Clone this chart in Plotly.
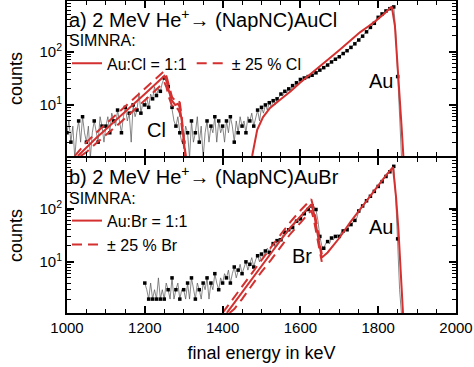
import plotly.graph_objects as go
from plotly.subplots import make_subplots

# ---------------- data ----------------
# panel a: measured spectrum, 5 keV steps from 1000 keV
E_a_start = 1000
counts_a = [
    3, 5, 2, 4, 1, 3, 5, 2, 6, 3,
    2, 4, 1, 3, 5, 3, 2, 6, 4, 2,
    4, 6, 3, 7, 5, 4, 8, 5, 3, 6,
    9, 5, 7, 2, 10, 6, 8, 17, 7, 11,
    10, 14, 9, 16, 13, 22, 15, 20, 18, 26,
    32, 28, 22, 14, 9, 5, 4, 6, 3, 2,
    2, 4, 3, 1, 5, 2, 3, 6, 2, 4,
    1, 3, 5, 2, 4, 3, 6, 2, 5, 3,
    4, 2, 5, 3, 6, 4, 2, 5, 3, 6,
    4, 5, 3, 6, 5, 7, 4, 6, 8, 5,
    9, 7, 10, 8, 11, 9, 12, 10, 13, 14,
    16, 15, 18, 17, 20, 19, 23, 21, 26, 24,
    30, 28, 32, 30, 34, 33, 36, 38, 40, 42,
    45, 48, 50, 54, 56, 60, 64, 68, 72, 76,
    80, 86, 92, 98, 104, 112, 120, 130, 140, 150,
    165, 180, 195, 215, 235, 260, 285, 310, 340, 370,
    440, 470, 510, 550, 580, 610, 640, 670, 690, 240,
    34, 4, 1, 1, 1,
]
energy_a = [E_a_start + 5 * i for i in range(len(counts_a))]

# panel a: SIMNRA Au:Cl = 1:1
sim_a_E = [1028, 1050, 1075, 1100, 1125, 1150, 1175, 1200, 1225, 1245, 1250, 1256, 1262,
           1270, 1278, 1285, 1290, 1295, 1300, 1305, None,
           1476, 1489, 1504, 1522, 1547, 1575, 1599, 1625, 1650, 1675, 1702, 1728, 1753,
           1775, 1792, 1817, 1835, 1843, 1850, 1856, 1860, 1865]
sim_a_c = [1.1, 1.6, 2.4, 3.5, 5.2, 7.6, 11, 16, 24, 33, 35, 28, 18,
           12, 10, 10.5, 9, 5, 2, 1, None,
           1.1, 3.4, 5.9, 8.8, 12.4, 18, 26, 37, 52, 75, 110, 160, 230,
           300, 370, 525, 700, 300, 60, 12, 4, 1]
# panel a: +/- 25 % Cl
cl_up_E = [1020, 1050, 1075, 1100, 1125, 1150, 1175, 1200, 1225, 1245, 1250, 1256, 1262,
           1270, 1278, 1285, 1290, 1295, 1300, 1306]
cl_up_c = [1.1, 2.0, 3.0, 4.4, 6.5, 9.5, 14, 20, 30, 41, 43, 34, 22,
           14, 12, 12.5, 11, 6, 2.4, 1]
cl_lo_E = [1035, 1050, 1075, 1100, 1125, 1150, 1175, 1200, 1225, 1245, 1250, 1256, 1262,
           1270, 1278, 1285, 1290, 1295, 1300, 1304]
cl_lo_c = [1.1, 1.3, 1.9, 2.7, 3.9, 5.7, 8.3, 12, 18, 25, 27, 21, 14,
           9.5, 8, 8.5, 7, 4, 1.6, 1]

# panel b: measured spectrum, 5 keV steps from 1200 keV
E_b_start = 1200
counts_b = [
    4, 3, 2, 4, 2, 3, 2, 5, 2, 3,
    2, 4, 3, 2, 5, 2, 3, 4, 2, 3,
    3, 2, 4, 2, 5, 3, 2, 4, 3, 2,
    4, 3, 5, 2, 4, 3, 6, 4, 3, 5,
    4, 6, 5, 7, 4, 6, 8, 5, 7, 9,
    6, 8, 10, 7, 9, 12, 8, 11, 13, 10,
    14, 12, 16, 18, 15, 20, 22, 19, 25, 28,
    26, 32, 36, 34, 40, 46, 44, 52, 58, 56,
    64, 72, 80, 88, 96, 106, 112, 110, 96, 60,
    30, 20, 18, 22, 24, 22, 28, 26, 30, 32,
    30, 36, 38, 42, 40, 46, 50, 55, 60, 66,
    90, 100, 112, 125, 140, 155, 170, 190, 210, 235,
    260, 290, 320, 360, 400, 440, 490, 560, 620, 170,
    27, 3, 1, 1, 1,
]
energy_b = [E_b_start + 5 * i for i in range(len(counts_b))]

# panel b: SIMNRA Au:Br = 1:1
sim_b_E = [1411, 1430, 1450, 1475, 1500, 1525, 1550, 1575, 1600, 1620, 1628, 1635, 1645,
           1655, 1670, 1700, 1728, 1750, 1771, 1790, 1805, 1820, 1838, 1846, 1852, 1856,
           1860, 1864]
sim_b_c = [1.1, 1.7, 2.7, 4.9, 8.6, 15, 26, 45, 72, 105, 120, 80, 30,
           12, 15, 28, 55, 90, 140, 210, 300, 420, 600, 160, 40, 11,
           3, 1]
# panel b: +/- 25 % Br
br_up_E = [1400, 1430, 1450, 1475, 1500, 1525, 1550, 1575, 1600, 1620, 1628, 1636, 1645, 1655]
br_up_c = [1.1, 2.2, 3.5, 6.3, 11, 19, 33, 57, 92, 135, 150, 90, 36, 14]
br_lo_E = [1418, 1430, 1450, 1475, 1500, 1525, 1550, 1575, 1600, 1620, 1628, 1634, 1645, 1655]
br_lo_c = [1.1, 1.3, 2.0, 3.7, 6.5, 11, 19.5, 34, 54, 80, 92, 65, 24, 10]

x_ticks = [1000, 1200, 1400, 1600, 1800, 2000]
y_ticks = [10, 100]
y_ticktext = ["10<sup>1</sup>", "10<sup>2</sup>"]
y_minor = [2, 3, 4, 5, 6, 7, 8, 9, 20, 30, 40, 50, 60, 70, 80, 90, 200, 300, 400, 500, 600, 700, 800, 900]

# ---------------- figure ----------------
RED = "#d3302f"
FONT = "Liberation Sans, Arial, sans-serif"
DASH = "10px,6px"

fig = make_subplots(rows=2, cols=1, shared_xaxes=True, vertical_spacing=0.006)

for row, E, c in [(1, energy_a, counts_a), (2, energy_b, counts_b)]:
    fig.add_trace(go.Scatter(x=E, y=c, mode="lines", line=dict(color="#555555", width=0.7),
                             showlegend=False, hoverinfo="skip"), row=row, col=1)
    fig.add_trace(go.Scatter(x=E[::2], y=c[::2], mode="markers",
                             marker=dict(symbol="square", size=3.5, color="black"),
                             showlegend=False), row=row, col=1)

fig.add_trace(go.Scatter(x=sim_a_E, y=sim_a_c, mode="lines", name="Au:Cl = 1:1",
                         line=dict(color=RED, width=2), legend="legend"), row=1, col=1)
fig.add_trace(go.Scatter(x=cl_up_E, y=cl_up_c, mode="lines", name="\u00b1 25 % Cl",
                         line=dict(color=RED, width=2, dash=DASH), legend="legend",
                         legendgroup="cl"), row=1, col=1)
fig.add_trace(go.Scatter(x=cl_lo_E, y=cl_lo_c, mode="lines", name="\u00b1 25 % Cl",
                         line=dict(color=RED, width=2, dash=DASH), legend="legend",
                         legendgroup="cl", showlegend=False), row=1, col=1)

fig.add_trace(go.Scatter(x=sim_b_E, y=sim_b_c, mode="lines", name="Au:Br = 1:1",
                         line=dict(color=RED, width=2), legend="legend2"), row=2, col=1)
fig.add_trace(go.Scatter(x=br_up_E, y=br_up_c, mode="lines", name="\u00b1 25 % Br",
                         line=dict(color=RED, width=2, dash=DASH), legend="legend2",
                         legendgroup="br"), row=2, col=1)
fig.add_trace(go.Scatter(x=br_lo_E, y=br_lo_c, mode="lines", name="\u00b1 25 % Br",
                         line=dict(color=RED, width=2, dash=DASH), legend="legend2",
                         legendgroup="br", showlegend=False), row=2, col=1)

axis_common = dict(showline=True, linecolor="black", linewidth=2, mirror="ticks",
                   ticks="inside", tickcolor="black", showgrid=False, zeroline=False,
                   automargin=False)

for row in (1, 2):
    fig.update_xaxes(range=[1000, 2000], tickvals=x_ticks, ticklen=7, tickwidth=1.5,
                     minor=dict(dtick=50, ticks="inside", ticklen=4, tickcolor="black", tickwidth=1),
                     tickfont=dict(size=15, color="black", family=FONT),
                     row=row, col=1, **axis_common)
    fig.update_yaxes(type="log", range=[0.04, 2.95], tickvals=y_ticks, ticktext=y_ticktext,
                     ticklen=7, tickwidth=1.5,
                     minor=dict(tickvals=y_minor, ticks="inside", ticklen=4, tickcolor="black", tickwidth=1),
                     tickfont=dict(size=15, color="black", family=FONT),
                     title=dict(text="counts", font=dict(size=18, color="black", family=FONT), standoff=12),
                     row=row, col=1, **axis_common)
fig.update_xaxes(showticklabels=False, row=1, col=1)
fig.update_xaxes(title=dict(text="final energy in keV", font=dict(size=18, color="black", family=FONT),
                            standoff=11), row=2, col=1)

ann = dict(showarrow=False, font=dict(size=20, color="black", family=FONT), xanchor="left", yanchor="middle")
fig.add_annotation(text="a) 2 MeV He<sup>+</sup>\u2192 (NapNC)AuCl", xref="x domain", yref="y domain",
                   x=0.0, y=0.886, **ann)
fig.add_annotation(text="b) 2 MeV He<sup>+</sup>\u2192 (NapNC)AuBr", xref="x2 domain", yref="y2 domain",
                   x=0.0, y=0.886, **ann)
lab = dict(showarrow=False, font=dict(size=20, color="black", family=FONT))
fig.add_annotation(text="Cl", x=1231, y=0.53, xref="x", yref="y", **lab)
fig.add_annotation(text="Au", x=1808, y=1.45, xref="x", yref="y", **lab)
fig.add_annotation(text="Br", x=1603, y=1.11, xref="x2", yref="y2", **lab)
fig.add_annotation(text="Au", x=1808, y=1.655, xref="x2", yref="y2", **lab)

legfont = dict(size=16, color="black", family=FONT)
fig.update_layout(
    width=474, height=367,
    margin=dict(l=67, r=18, t=1, b=54),
    plot_bgcolor="white", paper_bgcolor="white",
    font=dict(family=FONT, color="black"),
    legend=dict(orientation="h", x=0.0, y=0.921, xanchor="left", yanchor="top",
                bgcolor="rgba(0,0,0,0)", font=legfont,
                title=dict(text="SIMNRA:", font=legfont, side="top"),
                itemwidth=30, tracegroupgap=0),
    legend2=dict(orientation="v", x=0.0, y=0.417, xanchor="left", yanchor="top",
                 bgcolor="rgba(0,0,0,0)", font=legfont,
                 title=dict(text="SIMNRA:", font=legfont),
                 itemwidth=30, tracegroupgap=0),
)

fig.write_html("out.html", config={"displayModeBar": False},
               post_script="document.body.style.margin='0px';")
